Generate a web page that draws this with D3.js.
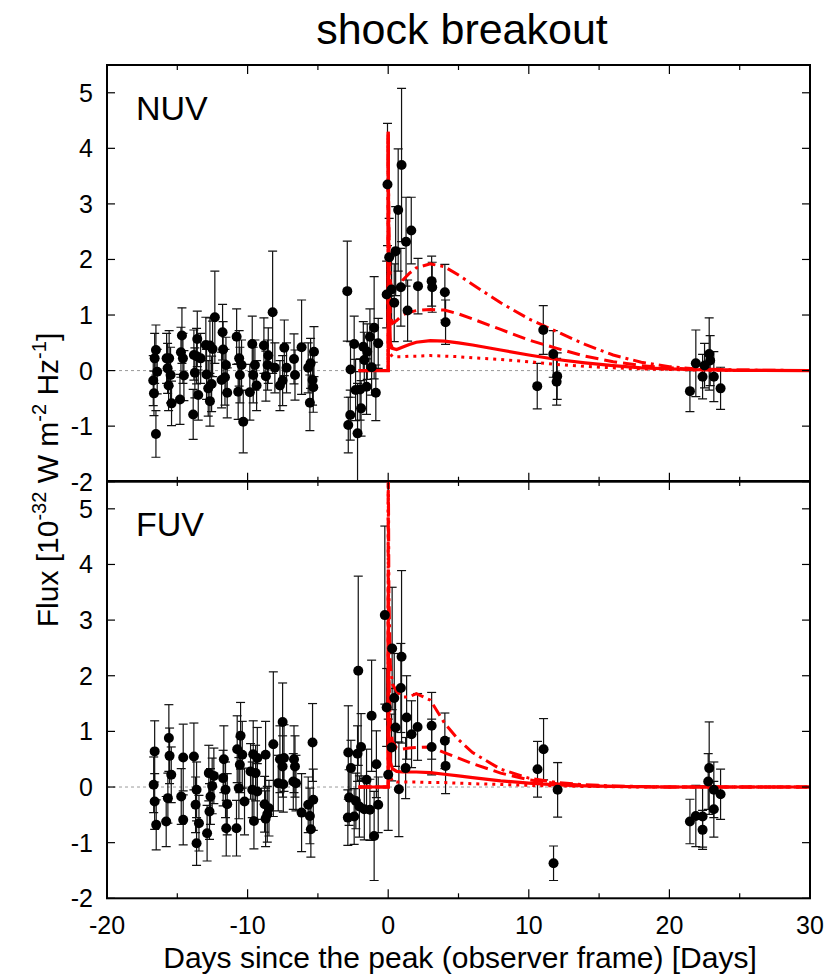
<!DOCTYPE html>
<html>
<head>
<meta charset="utf-8">
<script src="https://cdn.jsdelivr.net/npm/d3@7"></script>
<style>
  body { margin: 0; background: #fff; }
  svg { font-family: "Liberation Sans", Arial, sans-serif; }
</style>
</head>
<body>
<div id="chart"></div>
<script>
// ---- NUV photometry (days since peak, flux, 1 sigma error)
const nuvDays = [
  -16.52, -16.61, -16.43, -16.71, -16.66, -16.52, -15.76, -15.58, -15.69, -15.48, -15.62, -15.41,
  -14.67, -14.74, -14.6, -14.53, -14.81, -13.58, -13.82, -13.63, -13.34, -13.75, -13.51, -13.87,
  -12.97, -12.68, -12.49, -12.33, -12.92, -12.56, -12.8, -12.68, -11.78, -11.74, -11.54, -11.85,
  -11.61, -11.45, -10.78, -10.6, -10.43, -10.55, -10.67, -10.31, -9.67, -9.48, -9.36, -9.84,
  -9.6, -8.84, -8.53, -8.58, -8.7, -8.22, -8.06, -7.7, -7.51, -7.39, -7.23, -6.7,
  -6.63, -6.16, -5.69, -5.52, -5.38, -5.57, -5.28, -5.33,
  -2.91, -2.68, -2.84, -2.7, -2.42, -2.18, -2.32, -2.0, -1.93, -1.77, -1.7, -1.49,
  -1.3, -1.0, -0.71, -1.54, -1.18, -0.88, -0.11, -0.05, 0.07, 0.24, 0.43, 0.53,
  0.71, 0.95, 0.9, 1.27, 1.64, 1.38, 2.12, 3.09, 3.13, 4.03, 4.08,
  10.6, 11.03, 11.74, 12.02, 11.98, 21.46, 21.88, 22.36, 22.5, 22.83, 22.9, 23.16, 23.64
];
const nuvFlux = [
  0.37, 0.22, -0.02, -0.18, -0.41, -1.14, 0.22, 0.22, 0.04, -0.08, -0.27, -0.59,
  0.63, 0.33, 0.22, -0.09, -0.52, 0.57, 0.28, 0.26, 0.22, -0.04, -0.44, -0.79,
  0.46, 0.45, 0.39, 0.96, -0.07, -0.24, -0.32, -0.55, 0.69, 0.38, 0.10, -0.17,
  -0.12, -0.40, 0.61, 0.22, 0.10, -0.08, -0.38, -0.92, 0.48, 0.10, -0.27, -0.39,
  -0.08, 0.45, 0.27, 0.10, -0.10, 1.05, 0.05, -0.27, -0.18, 0.41, 0.05, 0.21,
  -0.08, 0.42, 0.05, 0.13, -0.17, -0.58, 0.34, -0.30,
  1.43, 0.02, -0.98, -0.80, 0.48, -1.13, -0.35, -0.34, -0.68, 0.43, 0.19, 0.34,
  0.61, 0.77, 0.49, -0.29, 0.06, -0.40, 1.37, 3.35, 2.04, 1.46, 1.22, 2.15,
  2.89, 3.70, 1.50, 2.32, 2.52, 1.08, 1.52, 1.61, 1.50, 1.41, 0.87,
  -0.28, 0.73, 0.30, -0.10, -0.20, -0.37, 0.13, -0.11, 0.09, 0.30, 0.18, -0.11, -0.32
];
const nuvErr = [
  0.45, 0.45, 0.40, 0.45, 0.40, 0.42, 0.45, 0.50, 0.45, 0.50, 0.45, 0.40,
  0.50, 0.45, 0.45, 0.45, 0.45, 0.50, 0.45, 0.50, 0.45, 0.45, 0.45, 0.45,
  0.50, 0.50, 0.50, 0.83, 0.45, 0.50, 0.50, 0.45, 0.50, 0.50, 0.50, 0.50,
  0.50, 0.45, 0.50, 0.50, 0.45, 0.50, 0.50, 0.56, 0.50, 0.45, 0.45, 0.50,
  0.50, 0.50, 0.50, 0.45, 0.45, 1.10, 0.45, 0.45, 0.45, 0.50, 0.45, 0.45,
  0.45, 0.85, 0.45, 0.45, 0.45, 0.50, 0.45, 0.45,
  0.90, 0.50, 0.50, 0.45, 0.50, 0.90, 0.55, 0.55, 0.50, 0.45, 0.50, 0.50,
  0.50, 0.92, 0.45, 0.50, 0.50, 0.50, 0.60, 1.10, 0.70, 0.60, 0.70, 0.80,
  1.10, 1.38, 0.70, 0.80, 0.60, 0.55, 0.50, 0.45, 0.45, 0.50, 0.40,
  0.41, 0.44, 0.42, 0.42, 0.42, 0.37, 0.60, 0.40, 0.40, 0.65, 0.45, 0.45, 0.38
];

// ---- FUV photometry
const fuvDays = [
  -16.61, -16.68, -16.61, -16.5, -15.6, -15.55, -15.43, -15.67, -15.79, -14.58, -14.72, -14.58,
  -13.82, -13.63, -13.7, -13.46, -13.63, -12.76, -12.52, -12.64, -12.71, -12.88, -12.4, -11.69,
  -11.74, -11.57, -11.45, -11.52, -10.74, -10.5, -10.38, -10.55, -10.62, -10.79, -10.22, -9.6,
  -9.31, -9.79, -9.43, -9.67, -9.31, -9.55, -8.72, -8.17, -8.79, -8.48, -8.6, -8.72,
  -7.51, -7.7, -7.41, -7.51, -7.82, -7.46, -6.7, -6.63, -6.75, -6.56, -6.16, -5.69,
  -5.57, -5.5, -5.38, -5.33,
  -2.84, -2.65, -2.78, -2.87, -2.42, -2.18, -2.13, -1.93, -2.3, -2.05, -1.7, -1.54,
  -1.3, -1.18, -1.0, -0.84, -0.71, -0.24, -0.11, 0.0, 0.28, 0.24, 0.43, 0.52,
  0.76, 0.95, 0.9, 1.31, 1.66, 1.24, 2.09, 3.09, 3.09, 4.03, 4.08,
  10.62, 11.05, 12.05, 11.76, 21.46, 21.88, 22.36, 22.36, 22.83, 22.76, 23.16, 23.16, 23.64
];
const fuvFlux = [
  0.64, 0.04, -0.26, -0.68, 0.88, 0.56, 0.22, -0.20, -0.62, 0.53, -0.17, -0.59,
  0.55, -0.05, -0.32, -0.65, -1.01, 0.25, 0.02, -0.17, -0.44, -0.83, 0.20, 0.50,
  0.16, -0.05, -0.31, -0.74, 0.68, 0.92, 0.58, 0.40, -0.02, -0.74, -0.26, 0.59,
  0.52, 0.28, 0.25, -0.05, -0.08, -0.61, 0.58, 0.77, -0.31, -0.38, -0.49, -0.57,
  1.17, 0.50, 0.52, 0.37, 0.07, 0.05, 0.50, 0.37, 0.10, 0.07, -0.46, -0.32,
  -0.52, -0.76, 0.80, -0.23,
  0.62, 0.34, -0.19, -0.55, -0.53, 0.60, 2.09, 0.72, -0.25, -0.35, -0.40, 0.13,
  -0.41, 1.28, -0.88, 0.41, -0.32, 3.09, 1.43, 0.22, 2.49, 0.71, 1.60, 1.07,
  -0.04, 2.34, 1.78, 1.25, 0.95, 0.34, 1.08, 1.10, 0.72, 0.83, 0.38,
  0.32, 0.68, -0.05, -1.37, -0.62, -0.52, -0.53, -0.77, 0.34, 0.10, -0.05, -0.40, -0.13
];
const fuvErr = [
  0.55, 0.50, 0.50, 0.45, 0.60, 0.50, 0.50, 0.45, 0.45, 0.60, 0.50, 0.45,
  0.60, 0.50, 0.50, 0.50, 0.40, 0.50, 0.50, 0.50, 0.50, 0.50, 0.50, 0.60,
  0.50, 0.50, 0.55, 0.50, 0.60, 0.60, 0.60, 0.50, 0.55, 0.50, 0.60, 0.60,
  0.55, 0.50, 0.50, 0.50, 0.50, 0.50, 0.60, 1.30, 0.50, 0.50, 0.50, 0.50,
  0.70, 0.60, 0.60, 0.55, 0.50, 0.50, 0.60, 0.55, 0.50, 0.50, 0.70, 0.50,
  0.50, 0.50, 0.70, 0.55,
  0.84, 0.50, 0.50, 0.50, 0.50, 0.50, 1.70, 0.60, 0.50, 0.55, 0.55, 0.55,
  0.55, 1.00, 0.80, 0.60, 0.50, 1.60, 0.70, 1.00, 1.10, 0.60, 0.80, 0.70,
  0.85, 1.55, 0.80, 0.75, 0.60, 0.55, 0.60, 0.60, 0.50, 0.50, 0.50,
  0.50, 0.55, 0.49, 0.31, 0.40, 0.55, 0.55, 0.35, 0.83, 0.50, 0.50, 0.50, 0.45
];

// ---- shock breakout model curves (shared day grid)
const modelDays = [-2.1, 0, 0, 0.05, 0.15, 0.3, 0.6, 1, 1.5, 2, 3, 4, 5, 6, 8, 10, 12, 14, 16, 18, 20, 22, 25, 30];
const nuvSolid   = [0, 0, 4.25, 1.5, 0.5, 0.4, 0.38, 0.42, 0.47, 0.51, 0.54, 0.53, 0.5, 0.46, 0.37, 0.28, 0.2, 0.14, 0.09, 0.05, 0.03, 0.015, 0.005, 0];
const nuvDashed  = [0, 0, 4.3, 2.0, 1.0, 0.85, 0.9, 1.0, 1.05, 1.08, 1.1, 1.09, 1.02, 0.93, 0.74, 0.55, 0.4, 0.26, 0.16, 0.09, 0.05, 0.02, 0.005, 0];
const nuvDashDot = [0, 0, 4.3, 2.5, 1.6, 1.45, 1.45, 1.62, 1.75, 1.85, 1.92, 1.87, 1.72, 1.55, 1.22, 0.93, 0.7, 0.47, 0.28, 0.15, 0.07, 0.03, 0.01, 0];
const nuvDotted  = [0, 0, 4.2, 1.0, 0.3, 0.25, 0.25, 0.25, 0.26, 0.26, 0.27, 0.26, 0.25, 0.23, 0.2, 0.16, 0.11, 0.075, 0.05, 0.03, 0.02, 0.01, 0, 0];
const fuvSolid   = [0, 0, 2.8, 1.0, 0.45, 0.33, 0.28, 0.27, 0.27, 0.27, 0.26, 0.23, 0.2, 0.17, 0.11, 0.07, 0.04, 0.02, 0.01, 0.005, 0, 0, 0, 0];
const fuvDashed  = [0, 0, 3.6, 2.0, 1.1, 0.82, 0.7, 0.68, 0.7, 0.71, 0.72, 0.62, 0.52, 0.42, 0.25, 0.13, 0.06, 0.03, 0.01, 0.005, 0, 0, 0, 0];
const fuvDashDot = [0, 0, 6.5, 3.5, 2.2, 1.85, 1.72, 1.62, 1.62, 1.68, 1.56, 1.15, 0.85, 0.62, 0.32, 0.16, 0.08, 0.04, 0.02, 0.01, 0, 0, 0, 0];
const fuvDotted  = [0, 0, 6.0, 1.0, 0.2, 0.1, 0.09, 0.09, 0.09, 0.09, 0.08, 0.08, 0.07, 0.06, 0.045, 0.03, 0.02, 0.01, 0.005, 0, 0, 0, 0, 0];

const xTicks = [-20, -10, 0, 10, 20, 30];
const yTicks = [-2, -1, 0, 1, 2, 3, 4, 5];

const W = 827, H = 979;
const left = 107, right = 810;
const panels = [
  { name: "NUV", top: 65, bottom: 481.7, days: nuvDays, flux: nuvFlux, err: nuvErr,
    models: [nuvSolid, nuvDashed, nuvDashDot, nuvDotted] },
  { name: "FUV", top: 481, bottom: 898.3, days: fuvDays, flux: fuvFlux, err: fuvErr,
    models: [fuvSolid, fuvDashed, fuvDashDot, fuvDotted] }
];
const dashes = [null, "13,6", "13,5,3,5", "3,5"];

const svg = d3.select("#chart").append("svg")
  .attr("width", W).attr("height", H);

const x = d3.scaleLinear().domain([-20, 30]).range([left, right]);

panels.forEach((p, i) => {
  const y = d3.scaleLinear().domain([-2, 5.5]).range([p.bottom, p.top]);
  const g = svg.append("g");
  const clipId = "clip" + i;
  svg.append("clipPath").attr("id", clipId)
    .append("rect").attr("x", left).attr("y", p.top)
    .attr("width", right - left).attr("height", p.bottom - p.top);

  const plot = g.append("g").attr("clip-path", `url(#${clipId})`);

  // zero reference line
  plot.append("line")
    .attr("x1", x(-20)).attr("x2", x(30))
    .attr("y1", y(0)).attr("y2", y(0))
    .attr("stroke", "#9a9a9a").attr("stroke-width", 1)
    .attr("stroke-dasharray", "3,3");

  // error bars
  const pts = p.days.map((d, k) => ({ d, f: p.flux[k], e: p.err[k] }));
  const eb = plot.append("g").attr("stroke", "#111").attr("stroke-width", 1.2);
  pts.forEach(pt => {
    const cx = x(pt.d);
    eb.append("line").attr("x1", cx).attr("x2", cx)
      .attr("y1", y(pt.f - pt.e)).attr("y2", y(pt.f + pt.e));
    [pt.f - pt.e, pt.f + pt.e].forEach(v => {
      eb.append("line").attr("x1", cx - 4.5).attr("x2", cx + 4.5)
        .attr("y1", y(v)).attr("y2", y(v));
    });
  });

  // model curves
  const line = d3.line().x(d => x(d[0])).y(d => y(d[1]));
  p.models.forEach((m, k) => {
    plot.append("path")
      .datum(modelDays.map((d, j) => [d, m[j]]))
      .attr("d", line)
      .attr("fill", "none")
      .attr("stroke", "#ff0000")
      .attr("stroke-width", k === 0 ? 3.2 : 3)
      .attr("stroke-dasharray", dashes[k]);
  });

  // data points
  plot.append("g").selectAll("circle").data(pts).join("circle")
    .attr("cx", d => x(d.d)).attr("cy", d => y(d.f))
    .attr("r", 5).attr("fill", "#000");

  // frame
  g.append("rect").attr("x", left).attr("y", p.top)
    .attr("width", right - left).attr("height", p.bottom - p.top)
    .attr("fill", "none").attr("stroke", "#000").attr("stroke-width", 2);

  // ticks (inward on all sides)
  const tk = g.append("g").attr("stroke", "#000").attr("stroke-width", 1.2);
  d3.range(-20, 31, 5).forEach(v => {
    const len = v % 10 === 0 ? 9 : 5;
    tk.append("line").attr("x1", x(v)).attr("x2", x(v))
      .attr("y1", p.bottom).attr("y2", p.bottom - len);
    tk.append("line").attr("x1", x(v)).attr("x2", x(v))
      .attr("y1", p.top).attr("y2", p.top + len);
  });
  yTicks.forEach(v => {
    tk.append("line").attr("x1", left).attr("x2", left + 8)
      .attr("y1", y(v)).attr("y2", y(v));
    tk.append("line").attr("x1", right).attr("x2", right - 8)
      .attr("y1", y(v)).attr("y2", y(v));
  });

  // y tick labels
  g.append("g").selectAll("text").data(yTicks).join("text")
    .attr("x", left - 14).attr("y", d => y(d))
    .attr("dy", "0.36em")
    .attr("text-anchor", "end")
    .attr("font-size", 25)
    .text(d => d);

  // band name
  g.append("text").attr("x", 136).attr("y", p.top + 55)
    .attr("font-size", 34).text(p.name);

  if (i === 1) {
    g.append("g").selectAll("text").data(xTicks).join("text")
      .attr("x", d => x(d)).attr("y", p.bottom + 36)
      .attr("text-anchor", "middle")
      .attr("font-size", 25)
      .text(d => d);
  }
});

// title and axis labels
svg.append("text").attr("x", 462).attr("y", 44)
  .attr("text-anchor", "middle").attr("font-size", 43)
  .text("shock breakout");

svg.append("text").attr("x", 460).attr("y", 968)
  .attr("text-anchor", "middle").attr("font-size", 30)
  .text("Days since the peak (observer frame) [Days]");

const yl = svg.append("text")
  .attr("transform", "translate(58,480) rotate(-90)")
  .attr("text-anchor", "middle").attr("font-size", 30);
yl.append("tspan").text("Flux [10");
yl.append("tspan").attr("dy", -12).attr("font-size", 20).text("-32");
yl.append("tspan").attr("dy", 12).text(" W m");
yl.append("tspan").attr("dy", -12).attr("font-size", 20).text("-2");
yl.append("tspan").attr("dy", 12).text(" Hz");
yl.append("tspan").attr("dy", -12).attr("font-size", 20).text("-1");
yl.append("tspan").attr("dy", 12).text("]");
</script>
</body>
</html>
